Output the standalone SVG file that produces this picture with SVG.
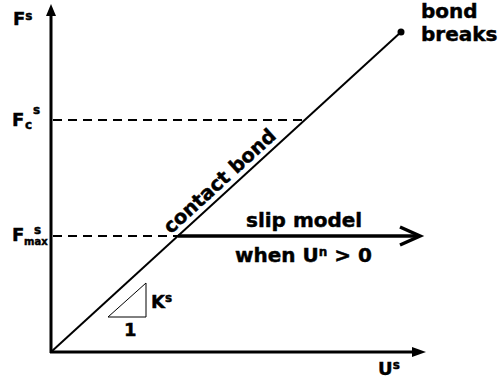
<svg xmlns="http://www.w3.org/2000/svg" width="500" height="383" viewBox="0 0 500 383">
<style>
text{font-family:"DejaVu Sans",Verdana,sans-serif;font-weight:bold;fill:#000;stroke:#000;stroke-width:0.45}
.lbl{font-size:20px}
.ax{font-size:18px}
.sup{font-size:12px}
.axis{stroke:#000;stroke-width:3;fill:none}
.dash{stroke:#000;stroke-width:2;stroke-dasharray:9,6;fill:none}
</style>
<g id="connectors">
<line class="axis" x1="51" y1="353" x2="51" y2="14"/>
<path d="M46,16 L51,4 L56,16 Z" fill="#000"/>
<line class="axis" x1="50" y1="352" x2="414" y2="352"/>
<path d="M412,347 L426,352 L412,357 Z" fill="#000"/>
<line x1="51" y1="352" x2="401" y2="32" stroke="#000" stroke-width="2"/>
<circle cx="401" cy="32" r="3.5" fill="#000"/>
<line class="dash" x1="53" y1="120" x2="302" y2="120"/>
<line class="dash" x1="53" y1="236" x2="178" y2="236"/>
<line x1="178" y1="236" x2="418" y2="236" stroke="#000" stroke-width="3.5"/>
<path d="M400,227 L420,236 L400,245" stroke="#000" stroke-width="3.5" fill="none"/>
<path d="M108,317 L146,317 L146,283 Z" stroke="#000" stroke-width="1" fill="none"/>
</g>
<g id="labels">
<text class="ax" x="13" y="25">F<tspan class="sup" dy="-5">s</tspan></text>
<text class="ax" x="12" y="126">F<tspan class="sup" x="25" y="129">c</tspan><tspan class="sup" x="33" y="114">s</tspan></text>
<text class="ax" x="12" y="241">F<tspan style="font-size:10px" x="24" y="245">max</tspan><tspan class="sup" x="34" y="234">s</tspan></text>
<text class="lbl" x="421" y="18">bond</text>
<text class="lbl" x="421" y="41">breaks</text>
<text class="lbl" style="font-size:19.5px" transform="translate(224,186) rotate(-42.4)" text-anchor="middle">contact bond</text>
<text class="lbl" x="246" y="227">slip model</text>
<text class="lbl" x="235" y="262">when U<tspan class="sup" dy="-6">n</tspan><tspan dy="6"> &gt; 0</tspan></text>
<text class="ax" x="151" y="308">K<tspan class="sup" dy="-6">s</tspan></text>
<text class="ax" x="124" y="336">1</text>
<text class="ax" x="378" y="375">U<tspan class="sup" dy="-6">s</tspan></text>
</g>
</svg>
